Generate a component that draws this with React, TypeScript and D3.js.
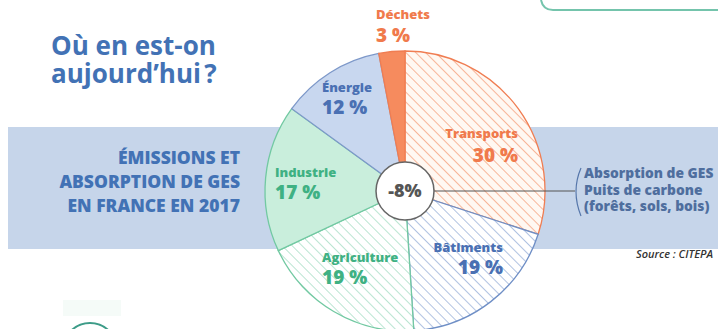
import React from "react";
import * as d3 from "d3";

const categories = ["Transports", "Bâtiments", "Agriculture", "Industrie", "Énergie", "Déchets"];
const values = [30, 19, 19, 17, 12, 3];
const absorption = -8;
const titleLines = ["Où en est-on", "aujourd’hui\u202F?"];
const subtitleLines = ["ÉMISSIONS ET", "ABSORPTION DE GES", "EN FRANCE EN 2017"];
const absorptionLines = ["Absorption de GES", "Puits de carbone", "(forêts, sols, bois)"];
const source = "Source : CITEPA";

// styles per category
const fills = ["url(#hOrange)", "url(#hBlue)", "url(#hGreen)", "#c9eedc", "#c8d7ef", "#f68b5e"];
const strokes = ["#f07d52", "#6f8fc6", "#72c9a2", "#72c9a2", "#7d98c9", "#f07d52"];
const textColors = ["#f07a4c", "#4a70b3", "#3fb183", "#3fb183", "#4a70b3", "#f07a4c"];
// label layout: [x, nameBaseline, pctBaseline, anchor]
const labelLayout: [number, number, number, string][] = [
  [518, 138, 162, "end"],
  [503, 252, 274, "end"],
  [322, 262, 284, "start"],
  [275, 177, 199, "start"],
  [322, 92, 114, "start"],
  [376, 19, 42, "start"],
];

const W = 718, H = 329;
const cx = 405, cy = 191, R = 140, rIn = 29;
const blue = "#4272b5";
const font = "'Open Sans', 'DejaVu Sans', sans-serif";

export default function App() {
  const pie = d3.pie<number>().sort(null).startAngle(0).endAngle(2 * Math.PI);
  const arcs = pie(values);
  const arc = d3.arc<d3.PieArcDatum<number>>().innerRadius(0).outerRadius(R);

  return (
    <svg width={W} height={H} style={{ position: "absolute", left: 0, top: 0, background: "#fff" }}>
      <defs>
        <pattern id="hOrange" patternUnits="userSpaceOnUse" width="7" height="7" patternTransform="rotate(-45)">
          <rect width="7" height="7" fill="#fff8f2" />
          <line x1="0" y1="0" x2="0" y2="7" stroke="#f49a74" strokeWidth="1.4" />
        </pattern>
        <pattern id="hBlue" patternUnits="userSpaceOnUse" width="7" height="7" patternTransform="rotate(-45)">
          <rect width="7" height="7" fill="#ffffff" />
          <line x1="0" y1="0" x2="0" y2="7" stroke="#86a2d3" strokeWidth="1.3" />
        </pattern>
        <pattern id="hGreen" patternUnits="userSpaceOnUse" width="7" height="7" patternTransform="rotate(-45)">
          <rect width="7" height="7" fill="#ffffff" />
          <line x1="0" y1="0" x2="0" y2="7" stroke="#95d8ba" strokeWidth="1.3" />
        </pattern>
      </defs>

      {/* top-right box edge */}
      <path d="M 541 0 Q 543 10 553 10 L 720 10" fill="none" stroke="#74c4ac" strokeWidth="2" />

      {/* band */}
      <rect x={8} y={127} width={W} height={122} fill="#c6d5ea" />

      {/* title */}
      {titleLines.map((t, i) => (
        <text key={t} x={51} y={55 + i * 28} fill={blue} fontFamily={font} fontWeight={700} fontSize={26}>
          {t}
        </text>
      ))}

      {/* subtitle */}
      {subtitleLines.map((t, i) => (
        <text key={t} x={240} y={164 + i * 24} textAnchor="end" fill={blue} fontFamily={font} fontWeight={800} fontSize={17.5}>
          {t}
        </text>
      ))}

      {/* pie */}
      <g transform={`translate(${cx},${cy})`}>
        {arcs.map((a, i) => (
          <path key={categories[i]} d={arc(a) || ""} fill={fills[i]} stroke={strokes[i]} strokeWidth={1.3} />
        ))}
        <line x1={rIn} y1={0} x2={575 - cx} y2={0} stroke="#555" strokeWidth={1} />
        <circle r={rIn} fill="#fff" stroke="#666" strokeWidth={1.5} />
        <text y={6} textAnchor="middle" fill="#555" fontFamily={font} fontWeight={800} fontSize={18}>
          {`${absorption}%`}
        </text>
      </g>

      {/* slice labels */}
      {arcs.map((a, i) => {
        const [x, y1, y2, anchor] = labelLayout[i];
        return (
          <g key={categories[i]} fill={textColors[i]} fontFamily={font} fontWeight={800} textAnchor={anchor as any}>
            <text x={x} y={y1} fontSize={13}>{categories[i]}</text>
            <text x={x} y={y2} fontSize={19}>{`${values[i]} %`}</text>
          </g>
        );
      })}

      {/* bracket and absorption text */}
      <path d="M 581 168 Q 571 191 581 216" fill="none" stroke="#5576aa" strokeWidth={1.2} />
      {absorptionLines.map((t, i) => (
        <text key={t} x={584} y={178 + i * 16.5} fill="#4f6e9e" fontFamily={font} fontWeight={800} fontSize={13.8}>
          {t}
        </text>
      ))}

      <text x={636} y={258} fill="#333" fontFamily={font} fontStyle="italic" fontWeight={600} fontSize={11}>
        {source}
      </text>

      {/* bottom-left decoration */}
      <rect x={63} y={300} width={58} height={16} fill="#f5fbf8" />
      <circle cx={90} cy={350} r={27} fill="#fff" stroke="#3d9c88" strokeWidth={2} />
    </svg>
  );
}
